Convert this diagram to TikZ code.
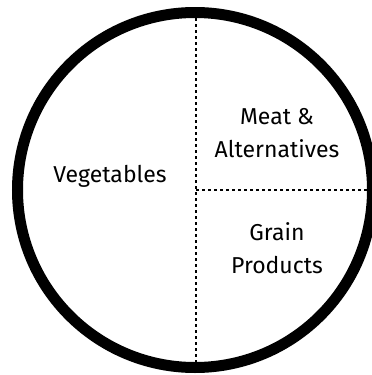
\documentclass[tikz,border=0pt]{standalone}
\usepackage{fontspec}
\setmainfont{Fira Sans}
\usepackage{tikz}
\newcommand{\drawthick}{\draw[line width=11pt]}
\newcommand{\drawdotted}{\draw[line width=2.4pt, dash pattern=on 3pt off 3pt]}
\tikzset{foodgroup/.style={font=\fontsize{23}{33}\selectfont, align=center, inner sep=0pt, anchor=base}}

\begin{document}
\begin{tikzpicture}[x=1pt,y=-1pt]
\useasboundingbox (0,0) rectangle (372,375);
\coordinate (centre) at (195,190);
\coordinate (top) at (196,12);
\coordinate (bottom) at (196,368);
\coordinate (right) at (370,190);
\drawdotted (top)--(bottom);
\drawdotted (centre-|top)--(right);
\drawthick (centre) circle (177.5);
% base anchor sits on the last line
\node[foodgroup] (veg) at (110,182) {Vegetables};
\node[foodgroup] (meat) at (277,157) {Meat \&\\Alternatives};
\node[foodgroup] (grain) at (277,273) {Grain\\Products};
\end{tikzpicture}
\end{document}
